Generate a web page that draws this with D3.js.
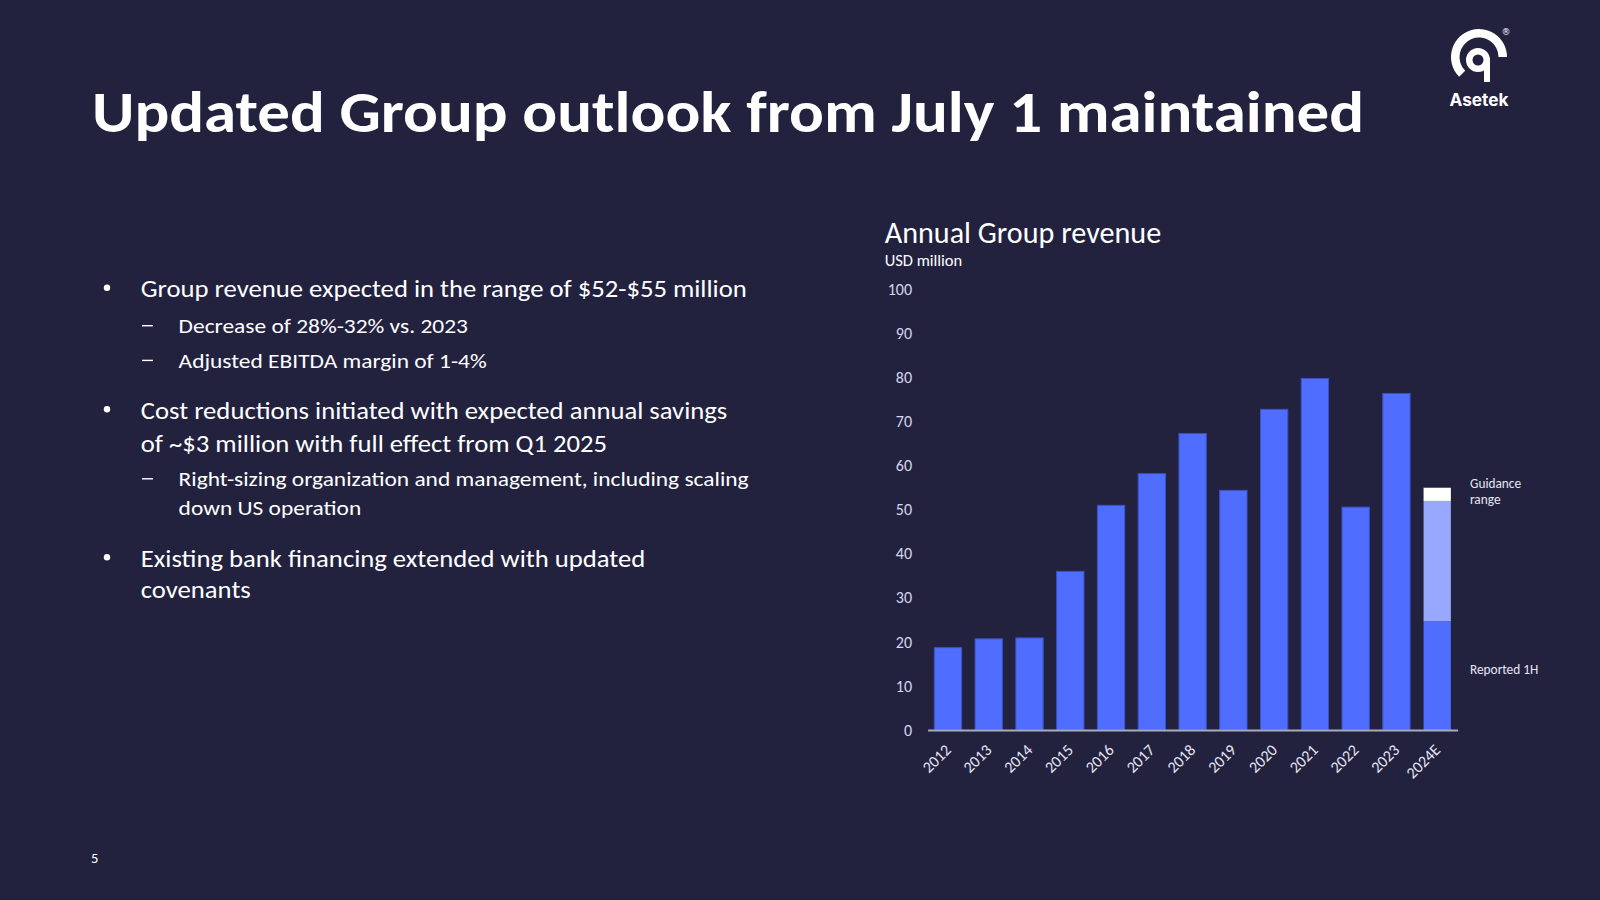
<!DOCTYPE html>
<html><head><meta charset="utf-8">
<script src="https://cdn.jsdelivr.net/npm/d3@7"></script>
<style>
html,body{margin:0;padding:0;background:#22223f;}
svg{display:block;}
</style></head><body>
<svg id="chart" width="1600" height="900"></svg>
<script>
// ---------- DATA ----------
const years = ["2012","2013","2014","2015","2016","2017","2018","2019","2020","2021","2022","2023","2024E"];
const revenue = [18.7, 20.7, 20.9, 36.0, 51.0, 58.2, 67.3, 54.4, 72.8, 79.8, 50.6, 76.4, null];
const forecastYear = "2024E";
const reported1H = [24.7];
const guidanceLow = [52];
const guidanceHigh = [55];
const yTicks = [0,10,20,30,40,50,60,70,80,90,100];

const titleText = "Updated Group outlook from July 1 maintained";
const chartTitle = "Annual Group revenue";
const unitLabel = "USD million";
const legendGuidance = ["Guidance", "range"];
const legendReported = "Reported 1H";
const bulletLines = [
  {level:0, bullet:true,  text:"Group revenue expected in the range of $52-$55 million"},
  {level:1, bullet:true,  text:"Decrease of 28%-32% vs. 2023"},
  {level:1, bullet:true,  text:"Adjusted EBITDA margin of 1-4%"},
  {level:0, bullet:true,  text:"Cost reductions initiated with expected annual savings"},
  {level:0, bullet:false, text:"of ~$3 million with full effect from Q1 2025"},
  {level:1, bullet:true,  text:"Right-sizing organization and management, including scaling"},
  {level:1, bullet:false, text:"down US operation"},
  {level:0, bullet:true,  text:"Existing bank financing extended with updated"},
  {level:0, bullet:false, text:"covenants"}
];
const pageNumber = "5";

// ---------- STYLE / LAYOUT ----------
const FONT = "Carlito, Calibri, Lato, 'Open Sans', sans-serif";
const BG = "#22223f";
const BAR = "#4f6dff";
const BAR_STROKE = "#3c52c4";
const LIGHT = "#98a8ff";
const WHITE = "#ffffff";
const lineY = [288.8, 325.5, 360.2, 410.2, 442.9, 478.6, 507.1, 558.2, 589.8];

const svg = d3.select("#chart");
svg.append("rect").attr("width",1600).attr("height",900).attr("fill",BG);

function fitGroup(sel, refNode, target){
  const m = refNode.getComputedTextLength();
  const r = target / m;
  sel.each(function(){
    const w = this.getComputedTextLength();
    d3.select(this).attr("textLength", w*r).attr("lengthAdjust","spacingAndGlyphs");
  });
}

// ---------- TITLE ----------
const title = svg.append("text")
  .attr("x", 92).attr("y", 132)
  .attr("fill", WHITE).attr("font-family", FONT).attr("font-weight", 700)
  .attr("font-size", 58.7).text(titleText);
fitGroup(title, title.node(), 1272);

// ---------- BULLETS ----------
const bl = svg.append("g").attr("font-family", FONT).attr("fill", WHITE);
const rows = bl.selectAll("g.row").data(bulletLines).join("g").attr("class","row")
  .attr("transform", (d,i)=>`translate(0,${lineY[i]})`);
const mainText = rows.filter(d=>d.level===0).append("text")
  .attr("x", 140.8).attr("font-size", 24).attr("dy","0.36em").text(d=>d.text);
const subText = rows.filter(d=>d.level===1).append("text")
  .attr("x", 178.6).attr("font-size", 21.33).attr("dy","0.36em").text(d=>d.text);
rows.filter(d=>d.level===0 && d.bullet).append("circle")
  .attr("cx", 107).attr("cy", -1).attr("r", 3.2).attr("fill", WHITE);
rows.filter(d=>d.level===1 && d.bullet).append("rect")
  .attr("x", 142).attr("y", -0.5).attr("width", 11).attr("height", 1.4).attr("fill", WHITE);
fitGroup(mainText, mainText.filter(d=>d.text.startsWith("Group")).node(), 606);
fitGroup(subText, subText.filter(d=>d.text.startsWith("Right")).node(), 570);

// ---------- PAGE NUMBER ----------
svg.append("text").attr("x", 91).attr("y", 863).attr("fill", WHITE)
  .attr("font-family", FONT).attr("font-size", 14.5).text(pageNumber);

// ---------- LOGO ----------
const logo = svg.append("g").attr("fill", WHITE);
logo.append("path")
  .attr("transform","translate(1479,57)")
  .attr("d", d3.arc()({innerRadius:19.5, outerRadius:28, startAngle:-Math.PI*0.75, endAngle:Math.PI/2}));
logo.append("path")
  .attr("transform","translate(1478,60)")
  .attr("d", d3.arc()({innerRadius:5.5, outerRadius:12, startAngle:0, endAngle:Math.PI*2}));
logo.append("rect").attr("x",1484).attr("y",60).attr("width",6).attr("height",22);
logo.append("text").attr("x",1506).attr("y",35).attr("font-size",9)
  .attr("font-family","DejaVu Sans").attr("text-anchor","middle").text("®");
const logoText = logo.append("text").attr("x",1479).attr("y",106).attr("text-anchor","middle")
  .attr("font-family","Inter, 'Open Sans', sans-serif").attr("font-weight",700).attr("font-size",17).text("Asetek");
fitGroup(logoText, logoText.node(), 59);

// ---------- CHART ----------
const y = d3.scaleLinear().domain([0,100]).range([730, 289.5]);
const x = d3.scaleBand().domain(years).range([927.6, 1457.6]).paddingInner(0.33).paddingOuter(0.165);

const ct = svg.append("text").attr("x", 884.7).attr("y", 243).attr("fill", WHITE)
  .attr("font-family", FONT).attr("font-size", 30).text(chartTitle);
fitGroup(ct, ct.node(), 276.5);
const ul = svg.append("text").attr("x", 884.7).attr("y", 266).attr("fill", WHITE)
  .attr("font-family", FONT).attr("font-size", 16).text(unitLabel);
fitGroup(ul, ul.node(), 77.5);

// y axis labels
const yAx = svg.append("g").attr("transform","translate(912,0)")
  .call(d3.axisLeft(y).tickValues(yTicks).tickSize(0).tickPadding(0));
yAx.select(".domain").remove();
yAx.selectAll("text").attr("fill","#d6d6ec").attr("font-family",FONT).attr("font-size",16);
fitGroup(yAx.selectAll("text"), yAx.selectAll("text").filter(d=>d===100).node(), 24.3);

// bars
const barData = years.map((yr,i)=>({year:yr, value:revenue[i]})).filter(d=>d.value!=null);
svg.append("g").selectAll("rect").data(barData).join("rect")
  .attr("x", d=>x(d.year)).attr("width", x.bandwidth())
  .attr("y", d=>y(d.value)).attr("height", d=>y(0)-y(d.value))
  .attr("fill", BAR).attr("stroke", BAR_STROKE).attr("stroke-width", 1);

// 2024E stacked guidance bar
const segs = [
  {lo:0, hi:reported1H[0], color:BAR},
  {lo:reported1H[0], hi:guidanceLow[0], color:LIGHT},
  {lo:guidanceLow[0], hi:guidanceHigh[0], color:WHITE}
];
svg.append("g").selectAll("rect").data(segs).join("rect")
  .attr("x", x(forecastYear)).attr("width", x.bandwidth())
  .attr("y", d=>y(d.hi)).attr("height", d=>y(d.lo)-y(d.hi))
  .attr("fill", d=>d.color);

// x axis
const xAx = svg.append("g").attr("transform", `translate(0,${y(0)})`)
  .call(d3.axisBottom(x).tickSize(0).tickSizeOuter(0));
xAx.select(".domain").attr("stroke","#a9a9bd").attr("stroke-width",2);
xAx.selectAll("text")
  .attr("fill","#e6e6f4").attr("font-family",FONT).attr("font-size",16)
  .attr("text-anchor","end").attr("x",0).attr("y",0).attr("dy","0.35em")
  .attr("transform","translate(0,17) rotate(-45)");
fitGroup(xAx.selectAll("text"), xAx.selectAll("text").filter(d=>d==="2012").node(), 32.4);

// legend annotations
const lg = svg.append("g").attr("fill","#e6e6f4").attr("font-family",FONT).attr("font-size",13.3);
lg.selectAll("text.g").data(legendGuidance).join("text").attr("class","g")
  .attr("x",1470).attr("y",(d,i)=>488+i*16).text(d=>d);
const rp = lg.append("text").attr("x",1470).attr("y",674).text(legendReported);
fitGroup(lg.selectAll("text"), rp.node(), 68.3);
</script>
</body></html>
